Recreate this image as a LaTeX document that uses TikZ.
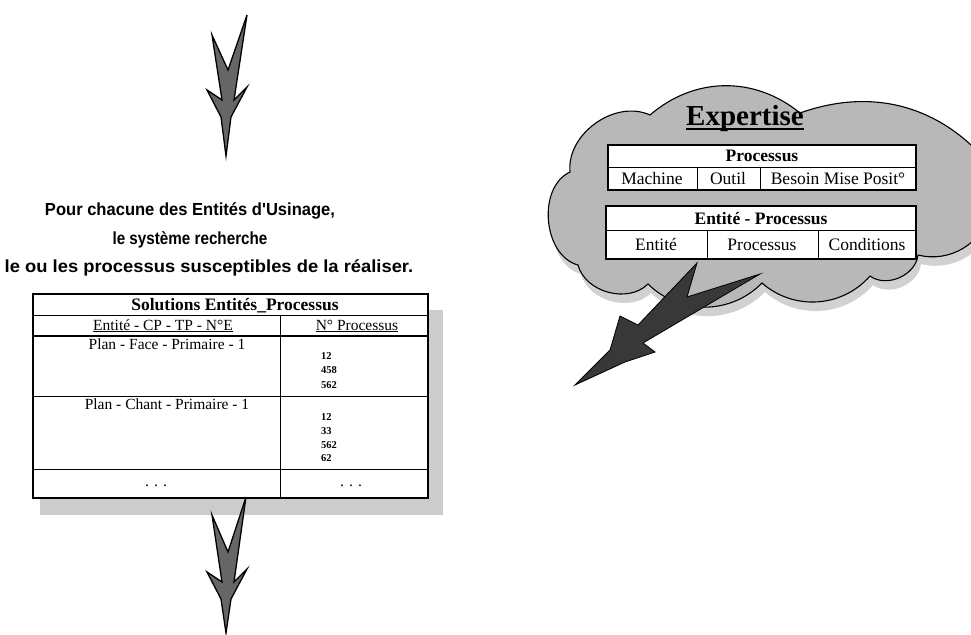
\documentclass[tikz,border=0pt]{standalone}
\usepackage{graphicx}
\usepackage{fontspec}
\setmainfont{Liberation Serif}
\newfontfamily\arialfont[Ligatures=TeXOff]{Liberation Sans}
\begin{document}
\begin{tikzpicture}[x=1pt,y=-1pt,
  arrowshape/.style={fill=black!60, draw=black, line width=1.3pt, line join=miter},
  boltshape/.style={fill=black!78, draw=black, line width=0.8pt, line join=miter},
  cloudshadow/.style={fill=black!18, shift={(3,9)}},
  cloudbody/.style={fill=black!28, draw=black, line width=1.1pt},
  tborder/.style={draw=black, line width=1.8pt},
  tline/.style={draw=black, line width=0.8pt},
  txt/.style={inner sep=0pt, anchor=base, font=\fontsize{15.5}{18}\selectfont},
  ttl/.style={inner sep=0pt, anchor=base, font=\bfseries\fontsize{17.5}{20}\selectfont},
  ctxt/.style={inner sep=0pt, anchor=base, font=\fontsize{17.5}{20}\selectfont},
  cttl/.style={inner sep=0pt, anchor=base, font=\bfseries\fontsize{17.5}{20}\selectfont},
  num/.style={inner sep=0pt, anchor=base west, font=\bfseries\fontsize{10.5}{12}\selectfont},
  say/.style={inner sep=0pt, anchor=base, font=\arialfont\bfseries\fontsize{17.5}{21}\selectfont},
]
\useasboundingbox (0,0) rectangle (971,634);

% ---------- top arrow ----------
\path[arrowshape] (212,35) -- (222,100) -- (207,90) -- (221,117) -- (226,156)
     -- (231,117) -- (247,87) -- (234,100) -- (247,15) -- (228,70) -- cycle;

% ---------- explanatory text ----------
\node[say] (l1) at (190,215.3) {\scalebox{0.946}[1]{Pour chacune des Entités d'Usinage,}};
\node[say] (l2) at (190,244.3) {\scalebox{0.87}[1]{le système recherche}};
\node[say] (l3) at (209,272.3) {\scalebox{1.05}[1]{le ou les processus susceptibles de la réaliser.}};

% ---------- main table ----------
\fill[black!20] (40,310) rectangle (443,515);
\draw[tborder, fill=white] (33,294) rectangle (428,498);
\draw[tline] (33,315) -- (428,315);
\draw[draw=black, line width=1.3pt] (33,336) -- (428,336);
\draw[tline] (33,396) -- (428,396);
\draw[tline] (33,469) -- (428,469);
\draw[tline] (280,315) -- (280,498);

\node[ttl] (sol) at (235,310.5) {Solutions Entités\_Processus};
\node[txt] (h1) at (163,330) {\underline{Entité - CP - TP - N°E}};
\node[txt] (h2) at (357,330) {\underline{N° Processus}};
\node[txt] (r1) at (167,349) {Plan - Face - Primaire - 1};
\node[num] (r1a) at (321,359.5) {12};
\node[num] (r1b) at (321,373.5) {458};
\node[num] (r1c) at (321,388.5) {562};
\node[txt] (r2) at (167,409) {Plan - Chant - Primaire - 1};
\node[num] (r2a) at (321,420.5) {12};
\node[num] (r2b) at (321,434.5) {33};
\node[num] (r2c) at (321,448.5) {562};
\node[num] (r2d) at (321,461.5) {62};
\node[txt] (r3a) at (156,486) {. . .};
\node[txt] (r3b) at (351,486) {. . .};

% ---------- bottom arrow ----------
\path[arrowshape] (212,515) -- (222,582) -- (207,572) -- (221,599) -- (226,633)
     -- (231,599) -- (247,569) -- (234,582) -- (246,497) -- (228,552) -- cycle;

% ---------- cloud ----------
\foreach \sty in {cloudshadow, cloudbody} {
  \path[\sty] (578,265) to[bend left=70] (570,172) to[bend left=60] (650,115)
    to[bend left=40] (800,113) to[bend left=35] (990,165) -- (990,212)
    to[bend left=45] (918,255) to[bend left=60] (870,276) to[bend left=45] (762,283)
    to[bend left=45] (648,284) to[bend left=60] (578,265) -- cycle;
}

\node[inner sep=0pt, anchor=base, font=\bfseries\fontsize{29}{32}\selectfont] (exp) at (745,125) {Expertise};
\draw[line width=2pt] ([yshift=-3.5pt]exp.base west) -- ([yshift=-3.5pt]exp.base east);

% table Processus
\draw[tborder, fill=white] (608,145) rectangle (916,190);
\draw[tline] (608,167) -- (916,167);
\draw[tline] (697,167) -- (697,190);
\draw[tline] (760,167) -- (760,190);
\node[cttl] (p0) at (762,161.5) {Processus};
\node[ctxt] (p1) at (652,184) {Machine};
\node[ctxt] (p2) at (728,184) {Outil};
\node[ctxt] (p3) at (838,184) {Besoin Mise Posit°};

% table Entite - Processus
\draw[tborder, fill=white] (606,206) rectangle (916,259);
\draw[tline] (606,230) -- (916,230);
\draw[tline] (707,230) -- (707,259);
\draw[tline] (818,230) -- (818,259);
\node[cttl] (e0) at (761,224) {Entité - Processus};
\node[ctxt] (e1) at (656,250) {Entité};
\node[ctxt] (e2) at (762,250) {Processus};
\node[ctxt] (e3) at (867,250) {Conditions};

% ---------- lightning arrow ----------
\path[boltshape] (697,263) -- (638,325) -- (620,316) -- (610,350) -- (575,385) -- (625,362)
   -- (655,352) -- (643,343) -- (760,274) -- (687,297) -- cycle;
\end{tikzpicture}
\end{document}
